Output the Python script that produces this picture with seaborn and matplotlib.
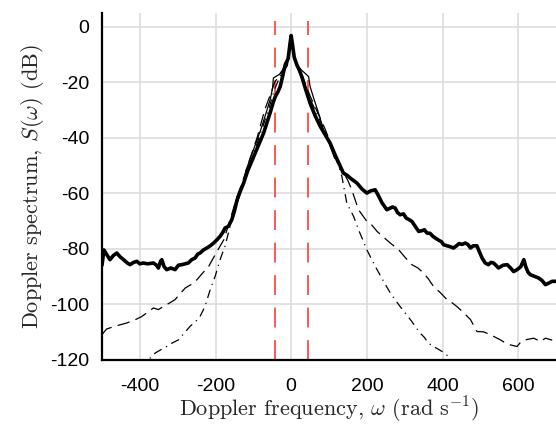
import numpy as np
import pandas as pd
import matplotlib
matplotlib.use("Agg")
import matplotlib.pyplot as plt
import seaborn as sns

# ---------------- data ----------------
thick_w = [-500, -495, -488, -479, -470, -461, -452, -443, -435, -426, -417, -408, -400, -391,
           -380, -364, -356, -351, -345, -342, -336, -329, -318, -307, -298, -289, -280, -272,
           -263, -254, -247, -241, -232, -223, -214, -205, -196, -188, -180, -175, -166, -157,
           -150, -143, -135, -126, -115, -99, -86, -73, -65, -56, -48, -42, -35, -29, -22, -16,
           -8, -3, 0, 3, 8, 15, 21, 28, 38, 50, 63, 77, 90, 103, 117, 130, 138, 147, 160, 174,
           187, 200, 210, 222, 231, 240, 253, 262, 268, 275, 281, 288, 297, 304, 311, 319, 328,
           337, 347, 352, 359, 367, 374, 381, 390, 397, 403, 412, 420, 429, 437, 444, 452, 460,
           467, 474, 481, 491, 497, 505, 513, 521, 528, 535, 541, 548, 554, 560, 571, 580, 588,
           598, 607, 615, 620, 626, 632, 643, 654, 663, 672, 680, 690, 700]
thick_s = [-86, -80.5, -82, -84, -82.5, -81.6, -83, -84, -85, -85.8, -85, -84.6, -85.5, -85.2,
           -85.5, -85.2, -86, -87, -84.5, -84, -86.5, -87.6, -87, -87.6, -86, -85.8, -85.5, -85.2,
           -84, -83.4, -82, -81.6, -80.5, -79.8, -79, -78, -76.8, -75.6, -74, -72.6, -72, -69.6,
           -66.5, -62.4, -59.5, -56.5, -52, -46.8, -42.5, -38.4, -35, -31.2, -27.5, -25.2, -23.5,
           -21.6, -17.5, -13.8, -11.5, -6, -3.2, -6, -11, -13.8, -15.5, -18, -22.5, -27.6, -32,
           -36, -39, -42, -46.5, -50.4, -52.8, -53.5, -55, -56.4, -58.5, -60, -59.2, -58.8, -61,
           -63.5, -66, -65.4, -65, -65.4, -67, -67.8, -67.5, -69, -69.5, -70.2, -72, -73.8, -73.5,
           -73.2, -74.4, -74.5, -75.5, -76.2, -77, -77.5, -78.6, -79, -79.3, -79.8, -79, -78.2,
           -78.5, -78, -78.5, -79.8, -79, -79, -81, -83.5, -85.2, -85.8, -85, -85.2, -86, -87,
           -86.5, -86, -85.8, -87, -88.3, -87.5, -86.5, -84, -86.5, -88.5, -89.4, -90, -90.6,
           -91.5, -93, -92.5, -91.8, -91.8]

thin_w = [-120, -100, -80, -65, -55, -49, -47, -35, -20, -10, -4, 0, 4, 12, 19, 30, 40, 46, 50,
          60, 72, 85, 100, 115]
thin_s = [-52, -44.5, -37, -30.5, -26, -22, -18.5, -17.5, -16.2, -14, -8, -4, -8, -13, -14.4,
          -16, -17.2, -18, -21.6, -26, -31, -37, -42, -47.5]

dash_w = [-500, -488, -466, -434, -410, -395, -380, -364, -351, -338, -320, -307, -295, -280,
          -265, -249, -232, -218, -196, -178, -160, -145, -130, -110, -90, -70, -55, -45, -30,
          -15, -5, 0, 5, 15, 30, 50, 70, 90, 110, 130, 150, 160, 178, 200, 213, 227, 245, 262,
          284, 300, 319, 335, 350, 363, 376, 395, 412, 425, 438, 455, 474, 491, 508, 526, 540,
          553, 566, 579, 597, 608, 619, 641, 659, 672, 690]
dash_s = [-111, -109, -108, -106.8, -105.5, -104.5, -103, -101.4, -102, -100.9, -99.5, -98.4,
          -96.5, -94.2, -93, -91.2, -88.5, -86.4, -81, -76.8, -69, -62, -56.5, -48, -40, -30,
          -24.5, -20.5, -17, -14, -8, -4, -8, -14, -18, -25, -31, -37, -44, -50.5, -55.5, -58.8,
          -66, -70.2, -71.5, -73.8, -76, -78, -80.4, -83, -85.8, -87, -88.8, -91, -93.6, -96,
          -98.4, -99.5, -100.9, -103, -105.6, -109.9, -110, -111, -112, -112.9, -114, -114.7,
          -115.3, -113.5, -112.9, -112.3, -113.5, -112.3, -113]

dd_w = [-400, -373, -360, -345, -329, -314, -298, -283, -267, -254, -241, -228, -214, -201,
        -188, -175, -166, -157, -140, -120, -100, -80, -60, -45, -30, -15, -5, 0, 5, 15, 30,
        50, 70, 90, 110, 125, 134, 147, 165, 178, 200, 213, 227, 245, 262, 275, 288, 303, 319,
        330, 341, 352, 363, 376, 388, 399, 416, 425]
dd_s = [-123, -119.5, -117.7, -116.5, -115.3, -114, -112.9, -110.5, -108, -106.5, -104.5,
        -100.9, -94.8, -90, -84, -79.2, -74.4, -69.6, -62.5, -54, -46, -38, -30, -23, -18,
        -14, -8, -4, -8, -14, -19, -26, -32, -38, -45, -50, -54, -63.6, -68.4, -73.2, -80.4,
        -84, -87.6, -92, -96, -98.5, -100.9, -103.5, -106.3, -108.5, -110.5, -112, -114.1,
        -115.3, -116.2, -117.1, -118.9, -121]

band_edges = [-44, 44]
xtick_vals = [-400, -200, 0, 200, 400, 600]
xtick_labels = ["-400", "-200", "0", "200", "400", "600"]
ytick_vals = [0, -20, -40, -60, -80, -100, -120]
ytick_labels = ["0", "-20", "-40", "-60", "-80", "-100", "-120"]

# ---------------- style ----------------
sns.set_style("white")
plt.rcParams["font.family"] = ["Liberation Sans", "DejaVu Sans"]
plt.rcParams["mathtext.fontset"] = "cm"
plt.rcParams["axes.unicode_minus"] = False

fig = plt.figure(figsize=(5.56, 4.26), dpi=100)
ax = fig.add_axes([0.1835, 0.156, 1.0 - 0.1835, 0.970 - 0.156])

ax.set_xlim(-500, 700)
ax.set_ylim(-120, 5)

ax.set_xticks(xtick_vals)
ax.set_xticklabels(xtick_labels)
ax.set_yticks(ytick_vals)
ax.set_yticklabels(ytick_labels)
ax.grid(True, color="#dddddd", lw=1.2)
ax.set_axisbelow(True)

# red band lines
for w in band_edges:
    ax.plot([w, w], [-120, 2], color="#ff4a4a", lw=1.3, dashes=(11, 7), zorder=2)

d_thin = pd.DataFrame({"w": thin_w, "S": thin_s})
d_dash = pd.DataFrame({"w": dash_w, "S": dash_s})
d_dd = pd.DataFrame({"w": dd_w, "S": dd_s})
d_thick = pd.DataFrame({"w": thick_w, "S": thick_s})

sns.lineplot(data=d_dd, x="w", y="S", ax=ax, color="black", lw=0.9, estimator=None,
             zorder=3).lines[-1].set_dashes((7, 4, 1, 4))
sns.lineplot(data=d_dash, x="w", y="S", ax=ax, color="black", lw=0.9, estimator=None,
             zorder=3).lines[-1].set_dashes((10, 5))
sns.lineplot(data=d_thin, x="w", y="S", ax=ax, color="black", lw=0.9, estimator=None, zorder=3)
sns.lineplot(data=d_thick, x="w", y="S", ax=ax, color="black", lw=2.6, estimator=None, zorder=4)

for s in ["top", "right"]:
    ax.spines[s].set_visible(False)
for s in ["left", "bottom"]:
    ax.spines[s].set_color("black")
    ax.spines[s].set_linewidth(1.6)
    ax.spines[s].set_zorder(5)

ax.tick_params(axis="both", direction="in", length=5, width=1.5, color="black",
               labelsize=14, labelcolor="black")
ax.tick_params(axis="x", pad=13)
ax.tick_params(axis="y", pad=9)

ax.set_xlabel(r"Doppler frequency, $\omega$ (rad s$^{-1}$)", family="cmr10", fontsize=16,
              labelpad=0)
ax.set_ylabel(r"Doppler spectrum, $S(\omega)$ (dB)", family="cmr10", fontsize=16,
              labelpad=3)

fig.savefig("out.png", dpi=100)
